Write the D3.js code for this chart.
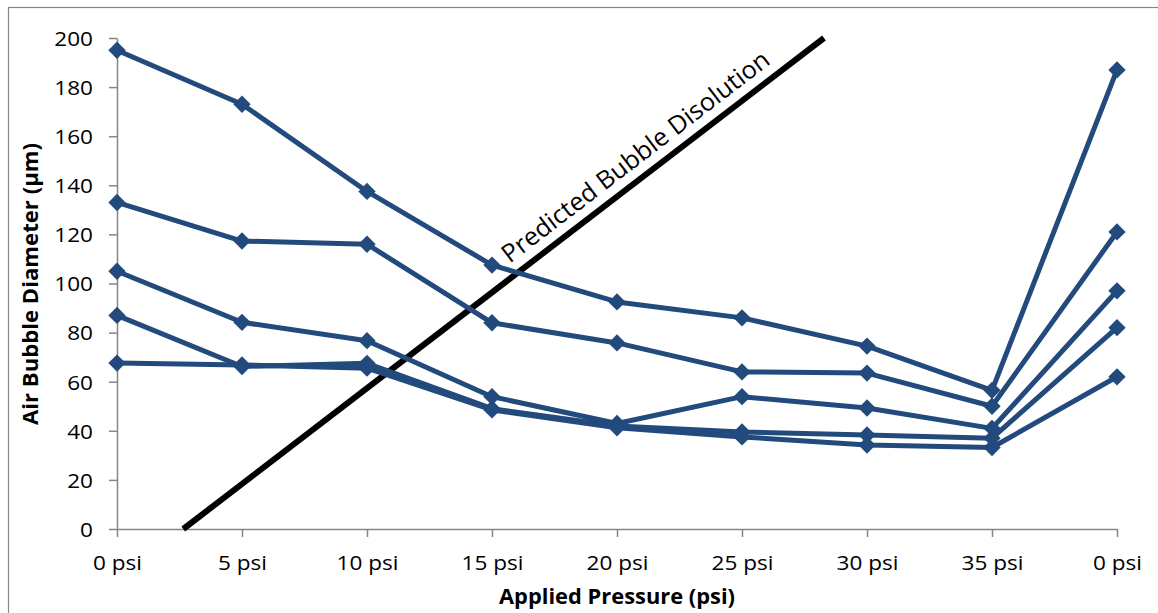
<!DOCTYPE html>
<html>
<head>
<meta charset="utf-8">
<script src="https://cdn.jsdelivr.net/npm/d3@7"></script>
<style>
  html, body { margin: 0; padding: 0; background: #fff; }
  svg { display: block; }
  text { font-family: "Open Sans", "Noto Sans", sans-serif; fill: #000; }
</style>
</head>
<body>
<svg id="chart" width="1158" height="613"></svg>
<script>
// Pressure steps (category axis, the last step is the release back to 0 psi)
const categories = ["0 psi", "5 psi", "10 psi", "15 psi", "20 psi", "25 psi", "30 psi", "35 psi", "0 psi"];

// Bubble diameters (µm) for each tracked bubble
const bubble1 = [195, 173, 137.5, 107.5, 92.5, 86, 74.5, 56.5, 187];
const bubble2 = [133, 117.3, 116, 84, 75.8, 64, 63.5, 50, 121];
const bubble3 = [105, 84.2, 76.7, 53.9, 43, 53.9, 49.3, 41, 97];
const bubble4 = [87, 66.2, 67.5, 49, 42, 39.5, 38.3, 37, 82];
const bubble5 = [67.6, 66.8, 65.5, 48.5, 41.2, 37.5, 34.2, 33.2, 62];
const bubbleSeries = [bubble1, bubble2, bubble3, bubble4, bubble5];

// Predicted dissolution line: [category position, diameter]
const predictedPos = [0.53, 5.656];
const predictedDiam = [0, 200];

const yTicks = [0, 20, 40, 60, 80, 100, 120, 140, 160, 180, 200];

const svg = d3.select("#chart");
const seriesColor = "#224a7d";
const axisColor = "#868686";

// Slightly widen a text run so its letterforms read like the wide-set chart font
function widen(sel, factor) {
  sel.each(function () {
    const len = this.getComputedTextLength();
    d3.select(this).attr("textLength", len * factor).attr("lengthAdjust", "spacingAndGlyphs");
  });
}

// Outer chart frame
svg.append("rect")
  .attr("x", 8.5).attr("y", 7.5)
  .attr("width", 1300).attr("height", 700)
  .attr("fill", "none").attr("stroke", axisColor).attr("stroke-width", 1.2);

const x = d3.scaleLinear().domain([0, categories.length - 1]).range([117, 1117]);
const y = d3.scaleLinear().domain([0, 200]).range([529, 38]);

// Y axis
const yAxis = svg.append("g")
  .attr("transform", `translate(${x(0)},0)`)
  .call(d3.axisLeft(y).tickValues(yTicks).tickSize(8).tickSizeOuter(0).tickPadding(16));
yAxis.selectAll("text").style("font-size", "20.5px").attr("dy", "0.36em")
  .call(widen, 1.1);

// X axis
const xAxis = svg.append("g")
  .attr("transform", `translate(0,${y(0)})`)
  .call(d3.axisBottom(x).tickValues(d3.range(categories.length))
    .tickFormat(i => categories[i]).tickSize(8).tickSizeOuter(0).tickPadding(18));
xAxis.selectAll("text").style("font-size", "20.5px")
  .call(widen, 1.1);

[yAxis, xAxis].forEach(g => {
  g.select(".domain").attr("stroke", axisColor).attr("stroke-width", 1.5);
  g.selectAll(".tick line").attr("stroke", axisColor).attr("stroke-width", 1.5);
});

// Predicted bubble dissolution line
const predicted = predictedPos.map((p, i) => [p, predictedDiam[i]]);
svg.append("path")
  .datum(predicted)
  .attr("fill", "none").attr("stroke", "#000").attr("stroke-width", 6)
  .attr("d", d3.line().x(d => x(d[0])).y(d => y(d[1])));

// Label running along the predicted line
const p0 = predicted[0], p1 = predicted[1];
const angle = Math.atan2(y(p1[1]) - y(p0[1]), x(p1[0]) - x(p0[0])) * 180 / Math.PI;
const labelT = 0.521;
const lx = x(p0[0]) + (x(p1[0]) - x(p0[0])) * labelT;
const ly = y(p0[1]) + (y(p1[1]) - y(p0[1])) * labelT;
svg.append("text")
  .attr("transform", `translate(${lx},${ly}) rotate(${angle}) translate(0,-12)`)
  .style("font-size", "25px")
  .attr("textLength", 330).attr("lengthAdjust", "spacingAndGlyphs")
  .text("Predicted Bubble Disolution");

// Bubble series
const line = d3.line().x((d, i) => x(i)).y(d => y(d));
const diamond = d3.symbol().type(d3.symbolSquare).size(150);
bubbleSeries.forEach(vals => {
  svg.append("path")
    .datum(vals)
    .attr("fill", "none").attr("stroke", seriesColor)
    .attr("stroke-width", 5).attr("stroke-linejoin", "round")
    .attr("d", line);
  svg.append("g").selectAll("path")
    .data(vals)
    .join("path")
    .attr("transform", (d, i) => `translate(${x(i)},${y(d)}) rotate(45)`)
    .attr("d", diamond)
    .attr("fill", seriesColor);
});

// Axis titles
svg.append("text")
  .attr("transform", `translate(38,284) rotate(-90)`)
  .attr("text-anchor", "middle")
  .style("font-size", "21px").style("font-weight", "bold")
  .attr("textLength", 282).attr("lengthAdjust", "spacingAndGlyphs")
  .text("Air Bubble Diameter (µm)");

svg.append("text")
  .attr("x", x(4)).attr("y", 604)
  .attr("text-anchor", "middle")
  .style("font-size", "21px").style("font-weight", "bold")
  .attr("textLength", 236).attr("lengthAdjust", "spacingAndGlyphs")
  .text("Applied Pressure (psi)");
</script>
</body>
</html>
